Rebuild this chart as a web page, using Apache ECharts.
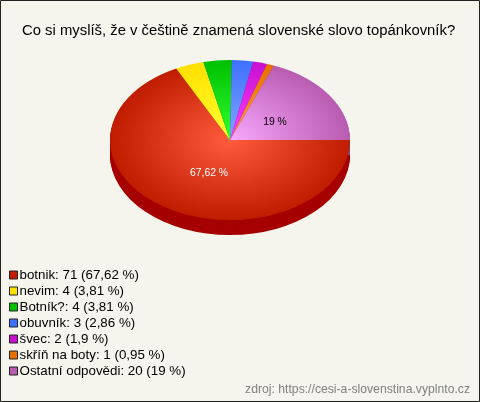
<!DOCTYPE html>
<html><head><meta charset="utf-8">
<style>html,body{margin:0;padding:0;background:#f5f5ed}#c{width:480px;height:402px}</style>
<script src="https://cdn.jsdelivr.net/npm/echarts@6/dist/echarts.min.js"></script>
</head><body><div id="c"></div>
<script>
const categories = ['botnik','nevim','Botník?','obuvník','švec','skříň na boty','Ostatní odpovědi'];
const values = [71,4,4,3,2,1,20];
const percents = ['67,62','3,81','3,81','2,86','1,9','0,95','19'];
const titleText = 'Co si myslíš, že v češtině znamená slovenské slovo topánkovník?';
const sourceText = 'zdroj: https://cesi-a-slovenstina.vyplnto.cz';

const edgeColors = ['#bf1c00','#ffe000','#00c000','#4070ff','#c810d0','#e87000','#b85cb0'];
const coreColors = ['#ff5c3e','#ffff30','#30ff30','#80a8ff','#ff40ff','#ffa030','#f8a8ff'];
const sideColors = ['#a60000','#b0a000','#008000','#2040b0','#800090','#a04000','#804080'];
const labelOffset = {0:[-21,33.5,'#fff'],6:[45,-18,'#000']};
const PIE = {cx:230,cy:140,r:120,squash:2/3,depth:15};

const total = values.reduce((a,b)=>a+b,0);
let running = 0;
const series = categories.map((name,i)=>{
  const before = running; running += values[i];
  return {
    type:'custom', name, coordinateSystem:'none', silent:true, animation:false,
    itemStyle:{color:edgeColors[i]},
    data:[[values[i],before]],
    renderItem(params,api){
      const start = api.value(1)/total*Math.PI*2;
      const end = start + api.value(0)/total*Math.PI*2;
      const shape = {cx:PIE.cx,cy:PIE.cy,r:PIE.r,r0:0,startAngle:start,endAngle:end,clockwise:true};
      const children = [];
      for(let d=PIE.depth;d>=1;d--){
        children.push({type:'sector',shape:Object.assign({},shape,{cy:PIE.cy+d}),scaleY:PIE.squash,originX:PIE.cx,originY:PIE.cy+d,style:{fill:sideColors[i]},z2:1});
      }
      children.push({type:'sector',shape,scaleY:PIE.squash,originX:PIE.cx,originY:PIE.cy,z2:5,
        style:{fill:new echarts.graphic.RadialGradient(PIE.cx,PIE.cy,PIE.r,[{offset:0,color:coreColors[i]},{offset:1,color:edgeColors[i]}],true)}});
      const lab = labelOffset[i];
      if(lab){
        children.push({type:'text',z2:9,x:PIE.cx+lab[0],y:PIE.cy+lab[1],
          style:{text:percents[i]+' %',fill:lab[2],font:'10.4px "Liberation Sans"',align:'center',verticalAlign:'middle'}});
      }
      return {type:'group',children};
    }
  };
});

const chart = echarts.init(document.getElementById('c'),null,{renderer:'canvas'});
chart.setOption({
  animation:false,
  backgroundColor:'#f5f5ed',
  title:[
    {text:titleText,left:17,top:18,textStyle:{fontFamily:'Liberation Sans',fontSize:14.85,fontWeight:'normal',color:'#000'}},
    {text:sourceText,right:5,top:379,textStyle:{fontFamily:'Liberation Sans',fontSize:12.2,fontWeight:'normal',color:'#808080'}}
  ],
  legend:{
    orient:'vertical',left:9,top:268.5,itemWidth:8,itemHeight:8,itemGap:3,padding:0,selectedMode:false,
    icon:'rect',itemStyle:{borderColor:'#222',borderWidth:1},
    textStyle:{fontFamily:'Liberation Sans',fontSize:13.35,color:'#000',padding:[0,0,0,-3],lineHeight:13},
    data:categories,
    formatter:n=>{const i=categories.indexOf(n);return n+': '+values[i]+' ('+percents[i]+' %)';}
  },
  graphic:[{type:'rect',silent:true,z:100,shape:{x:0.5,y:0.5,width:479,height:401},style:{fill:'none',stroke:'#222',lineWidth:1}}],
  series
});
</script></body></html>
